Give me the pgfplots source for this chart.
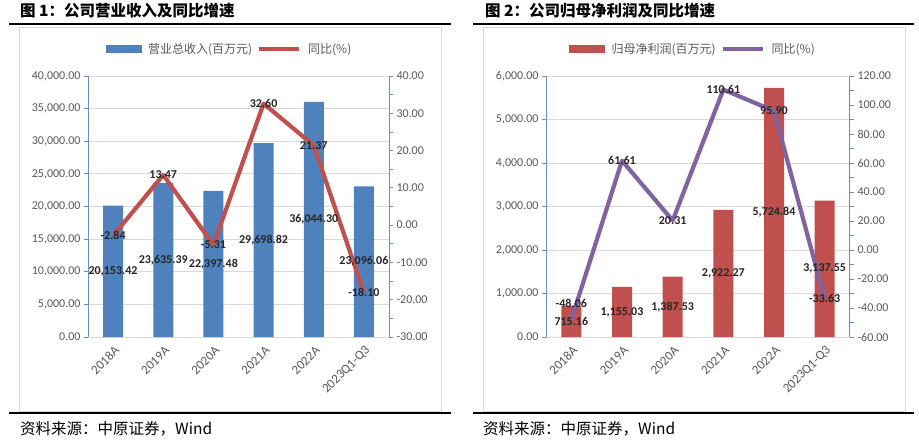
\documentclass[border=0pt]{standalone}
\usepackage{pgfplots}
\pgfplotsset{compat=1.18}
\usepackage{pgfplotstable}
\usepackage{fontspec}
\setmainfont{Carlito}
\newfontfamily\cjk{Noto Sans CJK SC}
\definecolor{barblue}{HTML}{4F81BD}
\definecolor{linered}{HTML}{C0504D}
\definecolor{barred}{HTML}{C0504D}
\definecolor{linepurple}{HTML}{8064A2}
\definecolor{axblue}{HTML}{6A8FC6}
\definecolor{gridgray}{HTML}{D9D9D9}
\definecolor{ticgray}{HTML}{595959}
\definecolor{lblgray}{HTML}{262626}
\definecolor{framegray}{HTML}{D9D9D9}

\pgfplotstableread{
x rev yoy
0 20153.42 -2.84
1 23635.39 13.47
2 22397.48 -5.31
3 29698.82 32.60
4 36044.30 21.37
5 23096.06 -18.10
}\dataA
\pgfplotstableread{
x np yoy
0 715.16 -48.06
1 1155.03 61.61
2 1387.53 20.31
3 2922.27 110.61
4 5724.84 95.90
5 3137.55 -33.63
}\dataB

\pgfplotsset{
  base/.style={scale only axis, height=261pt, xmin=-0.5, xmax=5.5, anchor=south west,
    /pgf/number format/assume math mode=true, clip=false, scaled y ticks=false},
  lefty/.style={axis y line*=left, axis x line*=bottom, ymin=0, ymajorgrids,
    grid style={gridgray, line width=0.8pt},
    y axis line style={axblue, line width=1pt}, x axis line style={gridgray, line width=1pt},
    ytick style={axblue, line width=0.8pt}, tick align=outside, major tick length=4pt,
    xtick=data, xticklabels={2018A,2019A,2020A,2021A,2022A,2023Q1-Q3}, x tick style={draw=none},
    xticklabel style={rotate=45, anchor=east, yshift=-8pt, xshift=1pt, font=\fontsize{13}{15}\selectfont, text=ticgray},
    yticklabel style={font=\fontsize{12}{14}\selectfont, text=ticgray,
      /pgf/number format/.cd, fixed, fixed zerofill, precision=2, 1000 sep={,}},
  },
  righty/.style={axis y line*=right, axis x line=none, xtick=\empty,
    y axis line style={axblue, line width=1pt},
    ytick style={axblue, line width=0.8pt}, minor y tick style={axblue, line width=0.8pt},
    tick align=outside, major tick length=4pt, minor tick length=4pt, minor y tick num=1,
    yticklabel style={font=\fontsize{12}{14}\selectfont, text=ticgray,
      /pgf/number format/.cd, fixed, fixed zerofill, precision=2, 1000 sep={,}},
    legend style={draw=none, fill=none, legend columns=-1, inner sep=0pt,
      font=\cjk\fontsize{12}{14}\selectfont, text=ticgray,
      /tikz/every odd column/.append style={column sep=5pt},
      /tikz/every even column/.append style={column sep=3pt}},
  },
  lbl/.style={only marks, mark=none,
    nodes near coords={\pgfmathprintnumber[fixed, fixed zerofill, precision=2, 1000 sep={,}]{\pgfplotspointmeta}},
    every node near coord/.append style={anchor=center, inner sep=0pt,
      font=\bfseries\fontsize{12}{14}\selectfont, text=lblgray}},
}

\begin{document}
\begin{tikzpicture}
\useasboundingbox (0pt,0pt) rectangle (919pt,-442pt);
\fill[white] (0pt,0pt) rectangle (919pt,-442pt);
\draw[framegray, line width=0.8pt] (19pt,-27pt) rectangle (441pt,-411pt);
\draw[framegray, line width=0.8pt] (483pt,-27pt) rectangle (905pt,-411pt);
\draw[black, line width=2pt] (9pt,-24pt) -- (451pt,-24pt);
\draw[black, line width=2pt] (9pt,-413pt) -- (451pt,-413pt);
\draw[black, line width=2pt] (473pt,-24pt) -- (914pt,-24pt);
\draw[black, line width=2pt] (473pt,-413pt) -- (914pt,-413pt);
\node[anchor=west, inner sep=0pt, font=\cjk\bfseries\fontsize{15.5}{18}\selectfont] at (20pt,-11pt) {图 1：公司营业收入及同比增速};
\node[anchor=west, inner sep=0pt, font=\cjk\bfseries\fontsize{15.5}{18}\selectfont] at (485pt,-11pt) {图 2：公司归母净利润及同比增速};
\node[anchor=west, inner sep=0pt, font=\cjk\fontsize{15.5}{18}\selectfont] at (20pt,-429pt) {资料来源：中原证券，Wind};
\node[anchor=west, inner sep=0pt, font=\cjk\fontsize{15.5}{18}\selectfont] at (483pt,-429pt) {资料来源：中原证券，Wind};

% ---------- Chart 1 ----------
\begin{axis}[base, lefty, at={(88pt,-337pt)}, width=301pt, ymax=40000, ytick={0,5000,...,40000}]
\addplot[ybar, bar width=20pt, fill=barblue, draw=none] table[x=x, y=rev] {\dataA};
\end{axis}
\begin{axis}[base, righty, at={(88pt,-337pt)}, width=301pt, ymin=-30, ymax=40, ytick={-30,-20,...,40},
  legend style={at={(0.4701,1.1034)}, anchor=center}]
\addlegendimage{legend image code/.code={\fill[barblue] (0pt,-3.5pt) rectangle (35pt,3.5pt);}}
\addlegendentry{营业总收入(百万元)}
\addlegendimage{legend image code/.code={\draw[linered, line width=4pt] (0pt,0pt) -- (40pt,0pt);}}
\addlegendentry{同比(\%)}
\addplot[linered, line width=4.2pt, line join=round, mark=none] table[x=x, y=yoy] {\dataA};
\addplot[lbl, point meta=explicit] table[x=x, y=yoy, meta=yoy] {\dataA};
\end{axis}
\begin{axis}[base, hide axis, at={(88pt,-337pt)}, width=301pt, ymin=0, ymax=40000]
\addplot[lbl, point meta=explicit] table[x=x, y expr=\thisrow{rev}/2, meta=rev] {\dataA};
\end{axis}

% ---------- Chart 2 ----------
\begin{axis}[base, lefty, at={(546pt,-337pt)}, width=304pt, ymax=6000, ytick={0,1000,...,6000}]
\addplot[ybar, bar width=20pt, fill=barred, draw=none] table[x=x, y=np] {\dataB};
\end{axis}
\begin{axis}[base, righty, at={(546pt,-337pt)}, width=304pt, ymin=-60, ymax=120, ytick={-60,-40,...,120},
  legend style={at={(0.4836,1.1034)}, anchor=center}]
\addlegendimage{legend image code/.code={\fill[barred] (0pt,-3.5pt) rectangle (35pt,3.5pt);}}
\addlegendentry{归母净利润(百万元)}
\addlegendimage{legend image code/.code={\draw[linepurple, line width=4pt] (0pt,0pt) -- (40pt,0pt);}}
\addlegendentry{同比(\%)}
\addplot[linepurple, line width=4.2pt, line join=round, mark=none] table[x=x, y=yoy] {\dataB};
\addplot[lbl, point meta=explicit, skip coords between index={0}{1}] table[x=x, y=yoy, meta=yoy] {\dataB};
\addplot[lbl, point meta=explicit, skip coords between index={1}{6},
  every node near coord/.append style={yshift=16pt}] table[x=x, y=yoy, meta=yoy] {\dataB};
\end{axis}
\begin{axis}[base, hide axis, at={(546pt,-337pt)}, width=304pt, ymin=0, ymax=6000]
\addplot[lbl, point meta=explicit] table[x=x, y expr=\thisrow{np}/2, meta=np] {\dataB};
\end{axis}
\end{tikzpicture}
\end{document}
